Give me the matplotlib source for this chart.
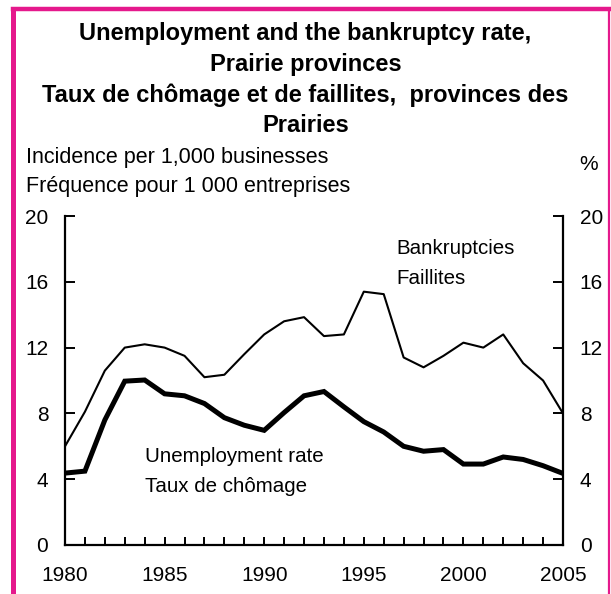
import matplotlib
matplotlib.use("Agg")
import matplotlib.pyplot as plt
from matplotlib.ticker import MultipleLocator

plt.rcParams['font.family'] = ['Liberation Sans', 'DejaVu Sans']

years = list(range(1980, 2006))
bankruptcies = [6.0, 8.1, 10.6, 12.0, 12.2, 12.0, 11.5, 10.2, 10.35, 11.6,
                12.8, 13.6, 13.85, 12.7, 12.8, 15.4, 15.25, 11.4, 10.8, 11.5,
                12.3, 12.0, 12.8, 11.05, 10.0, 8.0]
unemployment = [4.37, 4.49, 7.6, 9.96, 10.03, 9.19, 9.07, 8.6, 7.74, 7.28,
                6.97, 8.05, 9.07, 9.33, 8.4, 7.5, 6.87, 6.0, 5.7, 5.8,
                4.92, 4.92, 5.35, 5.2, 4.82, 4.35]

title_lines = ["Unemployment and the bankruptcy rate,",
               "Prairie provinces",
               "Taux de chômage et de faillites,  provinces des",
               "Prairies"]
left_label = ["Incidence per 1,000 businesses", "Fréquence pour 1 000 entreprises"]

W, H = 611, 594
fig = plt.figure(figsize=(W / 100, H / 100), dpi=100)

def fy(px):
    return 1 - px / H

# pink frame (left, top, right only)
pink = '#E5198C'
fig.add_artist(plt.Line2D([12.5 / W, 12.5 / W], [0, fy(9)], color=pink, lw=3.6,
                          transform=fig.transFigure, solid_capstyle='projecting'))
fig.add_artist(plt.Line2D([12.5 / W, 609 / W], [fy(9), fy(9)], color=pink, lw=3.2,
                          transform=fig.transFigure))
fig.add_artist(plt.Line2D([609 / W, 609 / W], [0, fy(9)], color=pink, lw=1.6,
                          transform=fig.transFigure))

ax = fig.add_axes([65 / W, fy(545), (563 - 65) / W, (545 - 216) / H])
ax.plot(years, bankruptcies, color='black', lw=1.5)
ax.plot(years, unemployment, color='black', lw=3.6, solid_joinstyle='miter')

ax.set_xlim(1980, 2005)
ax.set_ylim(0, 20)
ax.spines['top'].set_visible(False)
for s in ['left', 'right', 'bottom']:
    ax.spines[s].set_linewidth(1.6)
ax.xaxis.set_major_locator(MultipleLocator(5))
ax.xaxis.set_minor_locator(MultipleLocator(1))
ax.yaxis.set_major_locator(MultipleLocator(4))
ax.tick_params(axis='x', which='both', direction='in', length=6, width=1.4,
               labelsize=15, pad=15)
ax.tick_params(axis='y', direction='in', length=7, width=1.4, labelsize=15, pad=12,
               right=True, labelright=True)

ax.text(1984.02, 5.06, "Unemployment rate", fontsize=14.8, va='baseline')
ax.text(1984.02, 3.21, "Taux de chômage", fontsize=14.8, va='baseline')
ax.text(1996.65, 17.66, "Bankruptcies", fontsize=14.8, va='baseline')
ax.text(1996.65, 15.84, "Faillites", fontsize=14.8, va='baseline')

for line, base in zip(title_lines, [40, 71, 102, 132]):
    fig.text(0.5, fy(base), line, ha='center', va='baseline', fontsize=17,
             fontweight='bold')
for line, base in zip(left_label, [163, 192]):
    fig.text(26 / W, fy(base), line, ha='left', va='baseline', fontsize=15.5)
fig.text(588.5 / W, fy(170), "%", ha='center', va='baseline', fontsize=15)

fig.savefig("out.png", dpi=100)
